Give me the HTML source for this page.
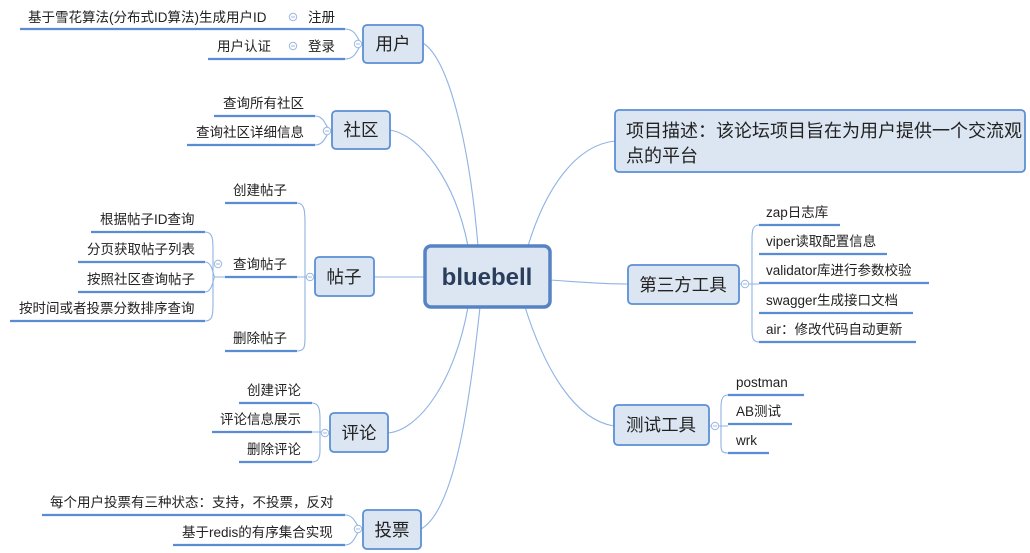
<!DOCTYPE html>
<html><head><meta charset="utf-8"><style>
html,body{margin:0;padding:0;background:#fff;}
svg{display:block}
text{font-family:"Liberation Sans","Noto Sans CJK SC",sans-serif;fill:#222;}
.l{font-size:13.5px}
.n{font-size:17.5px}
.u{stroke:#5a8cd3;stroke-width:2.2;fill:none}
.c{stroke:#8fb3e3;stroke-width:1.1;fill:none}
.b{fill:#dce6f2;stroke:#5b8fd4;stroke-width:1.8}
.o{fill:#fff;stroke:#9bb8e0;stroke-width:1}
.m{stroke:#9bb8e0;stroke-width:1}
</style></head><body>
<svg width="1030" height="553" viewBox="0 0 1030 553" xmlns="http://www.w3.org/2000/svg">
<defs>
<g id="om"><circle class="o" cx="0" cy="0" r="3.7"/><path class="m" d="M-2,0 H2"/></g>
</defs>
<!-- main connectors -->
<path class="c" d="M478,246 C470,150 450,60 423,43"/>
<path class="c" d="M468,246 C455,180 420,135 390,130"/>
<path class="c" d="M425,277 L374,277"/>
<path class="c" d="M468,307 C455,380 420,430 388,433"/>
<path class="c" d="M480,307 C470,400 455,510 421,529"/>
<path class="c" d="M528,246 C545,190 575,145 615,141"/>
<path class="c" d="M550,280 C580,282 600,284 628,284"/>
<path class="c" d="M525,307 C545,370 575,420 614,426"/>

<!-- 用户 -->
<path class="c" d="M345,29 C358,29 358,44 363,44 M345,59 C358,59 358,44 363,44"/>
<path class="u" d="M20,29 H345 M208,59 H345"/>
<text class="l" x="28" y="22">基于雪花算法(分布式ID算法)生成用户ID</text>
<text class="l" x="308" y="22">注册</text>
<text class="l" x="217" y="51">用户认证</text>
<text class="l" x="308" y="51">登录</text>
<use href="#om" x="293" y="17"/><use href="#om" x="293" y="46"/>
<use href="#om" x="358" y="44"/>
<rect class="b" x="363" y="25" width="60" height="38" rx="4"/>
<text class="n" x="393" y="50" text-anchor="middle">用户</text>

<!-- 社区 -->
<path class="c" d="M315,116 C326,116 326,131 332,131 M315,145 C326,145 326,131 332,131"/>
<path class="u" d="M214,116 H315 M187,145 H315"/>
<text class="l" x="223" y="108">查询所有社区</text>
<text class="l" x="196" y="137">查询社区详细信息</text>
<use href="#om" x="327" y="131"/>
<rect class="b" x="332" y="111" width="58" height="38" rx="4"/>
<text class="n" x="361" y="136" text-anchor="middle">社区</text>

<!-- 帖子 -->
<path class="c" d="M297,203 C306,203 305,215 305,230 L305,330 C305,345 306,351 297,351 M297,277 L315,277"/>
<path class="u" d="M225,203 H297 M225,277 H297 M225,351 H297"/>
<text class="l" x="233" y="195">创建帖子</text>
<text class="l" x="233" y="269">查询帖子</text>
<text class="l" x="233" y="343">删除帖子</text>
<path class="c" d="M205,232 C213,232 213,240 213,250 L213,305 C213,316 212,321 205,321 M205,262 C213,262 213,277 215,277 M205,292 C213,292 213,277 215,277 M215,277 H225"/>
<path class="u" d="M91,232 H205 M78,262 H205 M78,292 H205 M10,321 H205"/>
<text class="l" x="100" y="224">根据帖子ID查询</text>
<text class="l" x="87" y="254">分页获取帖子列表</text>
<text class="l" x="87" y="284">按照社区查询帖子</text>
<text class="l" x="19" y="313">按时间或者投票分数排序查询</text>
<use href="#om" x="218" y="264"/>
<use href="#om" x="310" y="277"/>
<rect class="b" x="315" y="257" width="59" height="39" rx="4"/>
<text class="n" x="344" y="283" text-anchor="middle">帖子</text>

<!-- 评论 -->
<path class="c" d="M312,403 C320,403 320,412 320,420 L320,450 C320,458 318,462 312,462 M312,432 L330,432"/>
<path class="u" d="M239,403 H312 M212,432 H312 M239,462 H312"/>
<text class="l" x="247" y="395">创建评论</text>
<text class="l" x="220" y="424">评论信息展示</text>
<text class="l" x="247" y="454">删除评论</text>
<use href="#om" x="325" y="433"/>
<rect class="b" x="330" y="413" width="58" height="39" rx="4"/>
<text class="n" x="359" y="439" text-anchor="middle">评论</text>

<!-- 投票 -->
<path class="c" d="M345,515 C356,515 356,529 363,529 M345,545 C356,545 356,529 363,529"/>
<path class="u" d="M42,515 H345 M173,545 H345"/>
<text class="l" x="50" y="507">每个用户投票有三种状态：支持，不投票，反对</text>
<text class="l" x="182" y="537">基于redis的有序集合实现</text>
<use href="#om" x="358" y="529"/>
<rect class="b" x="363" y="510" width="58" height="39" rx="4"/>
<text class="n" x="392" y="536" text-anchor="middle">投票</text>

<!-- 项目描述 -->
<rect class="b" x="615" y="110" width="410" height="62" rx="4"/>
<text x="626" y="137" style="font-size:18px">项目描述：该论坛项目旨在为用户提供一个交流观</text>
<text x="626" y="162" style="font-size:18px">点的平台</text>

<!-- 第三方工具 -->
<path class="c" d="M759,225 C752,225 752,232 752,240 L752,330 C752,338 753,342 759,342 M739,284 H759"/>
<path class="u" d="M759,225 H840 M759,254 H887 M759,283 H929 M759,313 H913 M759,342 H916"/>
<text class="l" x="766" y="217">zap日志库</text>
<text class="l" x="766" y="246">viper读取配置信息</text>
<text class="l" x="766" y="275">validator库进行参数校验</text>
<text class="l" x="766" y="305">swagger生成接口文档</text>
<text class="l" x="766" y="334">air：修改代码自动更新</text>
<use href="#om" x="745" y="284"/>
<rect class="b" x="628" y="265" width="111" height="39" rx="4"/>
<text class="n" x="683" y="291" text-anchor="middle">第三方工具</text>

<!-- 测试工具 -->
<path class="c" d="M728,395 C721,395 721,402 721,410 L721,445 C721,451 722,453 728,453 M709,426 H728"/>
<path class="u" d="M728,395 H804 M728,424 H792 M728,453 H769"/>
<text class="l" x="736" y="387">postman</text>
<text class="l" x="736" y="416">AB测试</text>
<text class="l" x="736" y="445">wrk</text>
<use href="#om" x="715" y="426"/>
<rect class="b" x="614" y="405" width="95" height="40" rx="4"/>
<text class="n" x="661" y="431" text-anchor="middle">测试工具</text>

<!-- center -->
<rect x="425" y="246" width="125" height="61" rx="6" fill="#dce6f2" stroke="#5683c4" stroke-width="3.5"/>
<text x="487" y="285" text-anchor="middle" style="font-size:24px;font-weight:bold;fill:#2a3e5c">bluebell</text>
</svg>
</body></html>
